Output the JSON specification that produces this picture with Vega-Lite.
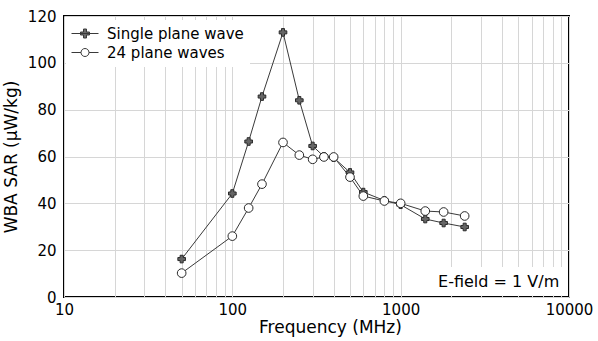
{
  "$schema": "https://vega.github.io/schema/vega-lite/v6.json",
  "width": 505,
  "height": 281,
  "autosize": "none",
  "padding": {"left": 64, "top": 16, "right": 29, "bottom": 44},
  "background": "white",
  "config": {
    "font": "DejaVu Sans",
    "view": {"stroke": "#000000", "strokeWidth": 2},
    "axis": {
      "grid": true,
      "labelFont": "DejaVu Sans",
      "labelFontSize": 15,
      "labelColor": "#000000",
      "titleFont": "DejaVu Sans",
      "titleFontSize": 17,
      "titleFontWeight": "normal",
      "titleColor": "#000000",
      "gridColor": "#d6d6d6",
      "gridWidth": 1,
      "domain": false,
      "ticks": false
    }
  },
  "datasets": {
    "sar": [
      {"freq": 50, "sar": 16.2, "series": "Single plane wave"},
      {"freq": 100, "sar": 44.2, "series": "Single plane wave"},
      {"freq": 125, "sar": 66.4, "series": "Single plane wave"},
      {"freq": 150, "sar": 85.6, "series": "Single plane wave"},
      {"freq": 200, "sar": 113.0, "series": "Single plane wave"},
      {"freq": 250, "sar": 84.0, "series": "Single plane wave"},
      {"freq": 300, "sar": 64.5, "series": "Single plane wave"},
      {"freq": 350, "sar": 60.0, "series": "Single plane wave"},
      {"freq": 400, "sar": 59.5, "series": "Single plane wave"},
      {"freq": 500, "sar": 53.2, "series": "Single plane wave"},
      {"freq": 600, "sar": 44.8, "series": "Single plane wave"},
      {"freq": 800, "sar": 41.2, "series": "Single plane wave"},
      {"freq": 1000, "sar": 39.4, "series": "Single plane wave"},
      {"freq": 1400, "sar": 33.3, "series": "Single plane wave"},
      {"freq": 1800, "sar": 31.6, "series": "Single plane wave"},
      {"freq": 2400, "sar": 29.9, "series": "Single plane wave"},
      {"freq": 50, "sar": 10.2, "series": "24 plane waves"},
      {"freq": 100, "sar": 26.0, "series": "24 plane waves"},
      {"freq": 125, "sar": 38.0, "series": "24 plane waves"},
      {"freq": 150, "sar": 48.2, "series": "24 plane waves"},
      {"freq": 200, "sar": 66.0, "series": "24 plane waves"},
      {"freq": 250, "sar": 60.6, "series": "24 plane waves"},
      {"freq": 300, "sar": 58.8, "series": "24 plane waves"},
      {"freq": 350, "sar": 59.8, "series": "24 plane waves"},
      {"freq": 400, "sar": 59.8, "series": "24 plane waves"},
      {"freq": 500, "sar": 51.2, "series": "24 plane waves"},
      {"freq": 600, "sar": 43.1, "series": "24 plane waves"},
      {"freq": 800, "sar": 41.0, "series": "24 plane waves"},
      {"freq": 1000, "sar": 40.0, "series": "24 plane waves"},
      {"freq": 1400, "sar": 36.7, "series": "24 plane waves"},
      {"freq": 1800, "sar": 36.3, "series": "24 plane waves"},
      {"freq": 2400, "sar": 34.6, "series": "24 plane waves"}
    ],
    "note": [
      {"label": "E-field = 1 V/m"}
    ]
  },
  "layer": [
    {
      "data": {"name": "sar"},
      "mark": {"type": "line", "strokeWidth": 1},
      "encoding": {
        "x": {
          "field": "freq",
          "type": "quantitative",
          "scale": {"type": "log", "domain": [10, 10000], "nice": false},
          "axis": {
            "grid": true,
            "title": "Frequency (MHz)",
            "values": [10, 20, 30, 40, 50, 60, 70, 80, 90, 100, 200, 300, 400, 500, 600, 700, 800, 900, 1000, 2000, 3000, 4000, 5000, 6000, 7000, 8000, 9000, 10000],
            "format": "d",
            "labelExpr": "(datum.value == 10 || datum.value == 100 || datum.value == 1000 || datum.value == 10000) ? datum.label : ''",
            "labelOverlap": false,
            "labelFlush": false,
            "labelBound": false,
            "labelPadding": 5,
            "titlePadding": 2,
            "titleX": 266
          }
        },
        "y": {
          "field": "sar",
          "type": "quantitative",
          "scale": {"domain": [0, 120], "nice": false},
          "axis": {
            "grid": true,
            "title": "WBA SAR (μW/kg)",
            "values": [0, 20, 40, 60, 80, 100, 120],
            "labelPadding": 8,
            "titlePadding": 7
          }
        },
        "stroke": {
          "field": "series",
          "type": "nominal",
          "scale": {"domain": ["Single plane wave", "24 plane waves"], "range": ["#3a3a3a", "#3a3a3a"]},
          "legend": {
            "title": null,
            "orient": "none",
            "legendX": 2,
            "legendY": 4,
            "padding": 6,
            "fillColor": "white",
            "symbolType": "circle",
            "symbolSize": 100,
            "symbolStrokeWidth": 1,
            "symbolOffset": 5.5,
            "labelOffset": 14.5,
            "labelFontSize": 15,
            "labelFont": "DejaVu Sans",
            "labelColor": "#000000",
            "rowPadding": 3,
            "encode": {
              "symbols": {
                "update": {
                  "shape": {"signal": "datum.value == 'Single plane wave' ? 'M-2.7,0H2.7M-0.3,-0.9H0.3V-0.3H0.9V0.3H0.3V0.9H-0.3V0.3H-0.9V-0.3H-0.3Z' : 'M-2.7,0H-0.8M0.8,0H2.7M0.8,0A0.8,0.8 0 1,1 -0.8,0A0.8,0.8 0 1,1 0.8,0Z'"},
                  "fill": {"signal": "datum.value == 'Single plane wave' ? '#6b6b6b' : 'white'"},
                  "stroke": {"signal": "'#2e2e2e'"},
                  "strokeWidth": {"value": 1},
                  "opacity": {"value": 1}
                }
              }
            }
          }
        }
      }
    },
    {
      "data": {"name": "sar"},
      "transform": [{"filter": "datum.series == 'Single plane wave'"}],
      "mark": {"type": "point", "shape": "cross", "filled": true, "fill": "#666666", "stroke": "#2a2a2a", "strokeWidth": 1, "opacity": 1, "size": 58},
      "encoding": {
        "x": {"field": "freq", "type": "quantitative"},
        "y": {"field": "sar", "type": "quantitative"}
      }
    },
    {
      "data": {"name": "sar"},
      "transform": [{"filter": "datum.series == '24 plane waves'"}],
      "mark": {"type": "point", "shape": "circle", "filled": true, "fill": "white", "stroke": "#2a2a2a", "strokeWidth": 1, "opacity": 1, "size": 75},
      "encoding": {
        "x": {"field": "freq", "type": "quantitative"},
        "y": {"field": "sar", "type": "quantitative"}
      }
    },
    {
      "data": {"name": "note"},
      "mark": {"type": "rect", "fill": "white"},
      "encoding": {
        "x": {"datum": 1480, "type": "quantitative"},
        "x2": {"datum": 9600},
        "y": {"datum": 0.6, "type": "quantitative"},
        "y2": {"datum": 12.8}
      }
    },
    {
      "data": {"name": "note"},
      "mark": {"type": "text", "align": "right", "baseline": "alphabetic", "fontSize": 16, "font": "DejaVu Sans", "color": "#000000"},
      "encoding": {
        "x": {"datum": 8750, "type": "quantitative"},
        "y": {"datum": 4.3, "type": "quantitative"},
        "text": {"field": "label", "type": "nominal"}
      }
    }
  ]
}
